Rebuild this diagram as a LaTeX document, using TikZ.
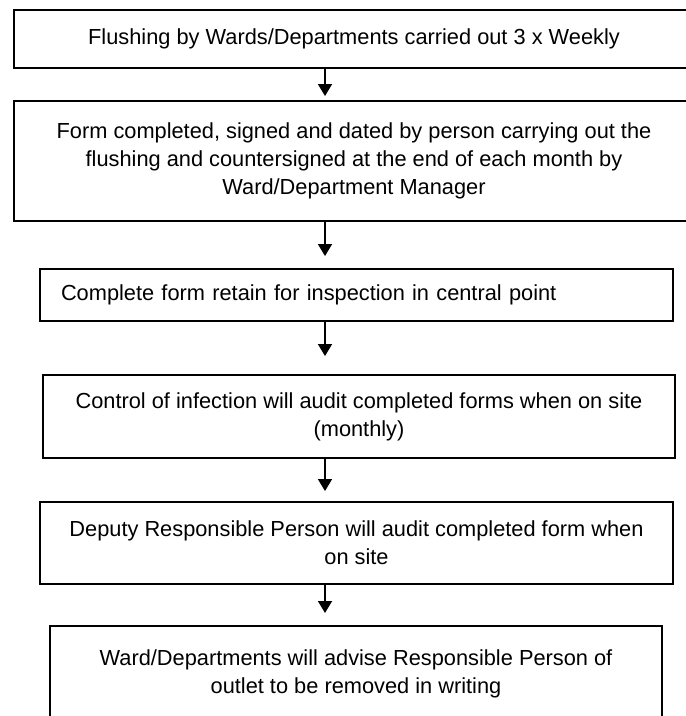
\documentclass[tikz,border=0pt]{standalone}
\usepackage{fontspec}
\setmainfont{Liberation Sans}
\usetikzlibrary{arrows.meta}

\begin{document}
\begin{tikzpicture}[
  stepbox/.style ={draw=black, line width=1.1pt, align=center, inner xsep=0pt,
                   font=\fontsize{12.4}{15.9}\selectfont},
  flow/.style    ={-{Triangle[length=2.4mm, width=2.8mm]}, line width=0.9pt, black},
]
\useasboundingbox (0,0) rectangle (13.72,-14.32);
\clip (0,0) rectangle (13.72,-14.32);

% ---------------- the six steps, top to bottom ----------------
\node[stepbox, minimum width=13.6cm, minimum height=1.16cm] (flush) at (7.08,-0.78)
  {Flushing by Wards/Departments carried out 3 x Weekly};
\node[stepbox, minimum width=13.6cm, minimum height=2.4cm] (form) at (7.08,-3.22)
  {Form completed, signed and dated by person carrying out the\\
   flushing and countersigned at the end of each month by\\
   Ward/Department Manager};
\node[stepbox, text width=11.82cm, align=left, inner xsep=0.42cm,
      minimum height=1.04cm] (retain) at (7.13,-5.9)
  {Complete form retain for inspection in central point};
\node[stepbox, minimum width=12.64cm, minimum height=1.66cm] (infect) at (7.18,-8.33)
  {Control of infection will audit completed forms when on site\\
   (monthly)};
\node[stepbox, minimum width=12.66cm, minimum height=1.64cm] (deputy) at (7.13,-10.86)
  {Deputy Responsible Person will audit completed form when\\
   on site};
\node[stepbox, minimum width=12.24cm, anchor=north, inner ysep=0.48cm,
      text depth=1.5cm] (advise) at (7.12,-12.5)
  {Ward/Departments will advise Responsible Person of\\
   outlet to be removed in writing};

\coordinate (spine) at (6.5,0);

% ---------------- arrows between the steps ----------------
\foreach \from/\to/\gap in {flush/form/0.8mm, form/retain/2.4mm, retain/infect/3.6mm,
                            infect/deputy/2mm, deputy/advise/2.4mm}
  \draw[flow, shorten >=\gap] (\from.south -| spine) -- (\to.north -| spine);

\end{tikzpicture}
\end{document}
